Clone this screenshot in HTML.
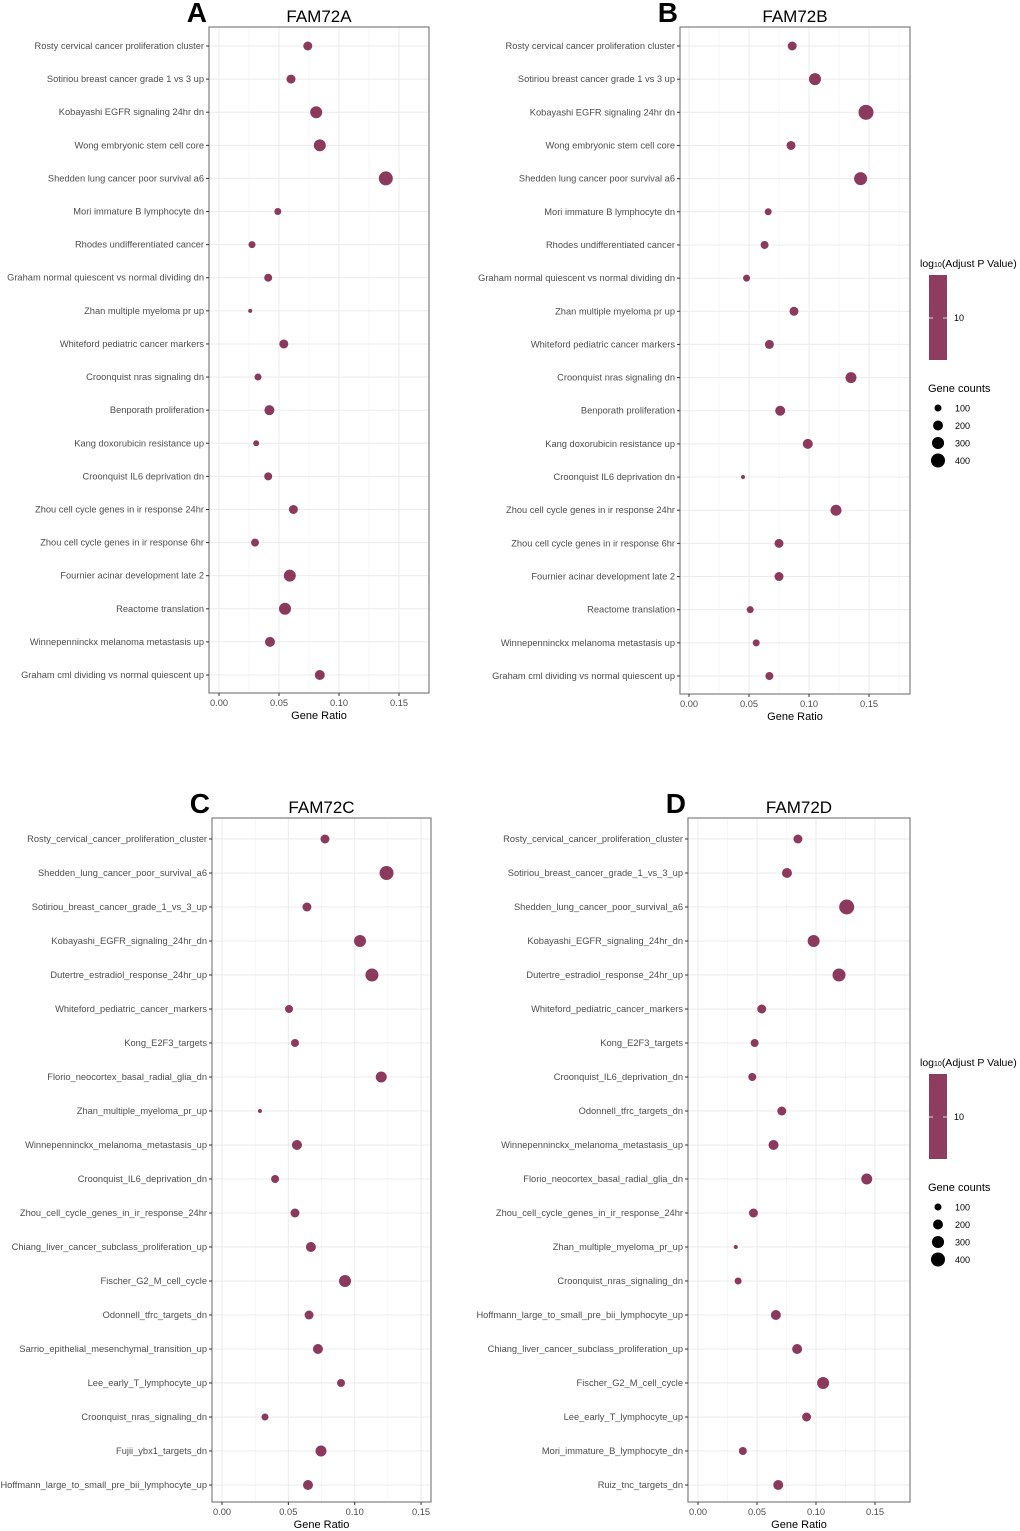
<!DOCTYPE html>
<html><head><meta charset="utf-8">
<style>
html,body{margin:0;padding:0;background:#fff;}
svg{display:block;font-family:"Liberation Sans",Arial,sans-serif;}
</style></head>
<body>
<svg id="fig" width="1020" height="1531" viewBox="0 0 1020 1531"></svg>
<script>
// Panel A data
const catsA = ["Rosty cervical cancer proliferation cluster","Sotiriou breast cancer grade 1 vs 3 up","Kobayashi EGFR signaling 24hr dn","Wong embryonic stem cell core","Shedden lung cancer poor survival a6","Mori immature B lymphocyte dn","Rhodes undifferentiated cancer","Graham normal quiescent vs normal dividing dn","Zhan multiple myeloma pr up","Whiteford pediatric cancer markers","Croonquist nras signaling dn","Benporath proliferation","Kang doxorubicin resistance up","Croonquist IL6 deprivation dn","Zhou cell cycle genes in ir response 24hr","Zhou cell cycle genes in ir response 6hr","Fournier acinar development late 2","Reactome translation","Winnepenninckx melanoma metastasis up","Graham cml dividing vs normal quiescent up"];
const ratioA = [0.074,0.060,0.081,0.084,0.139,0.049,0.0275,0.041,0.026,0.054,0.0325,0.042,0.031,0.041,0.062,0.030,0.059,0.055,0.0425,0.084];
const countA = [165,165,294,294,400,100,100,130,33,165,100,204,73,130,165,130,294,294,204,204];
// Panel B data
const catsB = ["Rosty cervical cancer proliferation cluster","Sotiriou breast cancer grade 1 vs 3 up","Kobayashi EGFR signaling 24hr dn","Wong embryonic stem cell core","Shedden lung cancer poor survival a6","Mori immature B lymphocyte dn","Rhodes undifferentiated cancer","Graham normal quiescent vs normal dividing dn","Zhan multiple myeloma pr up","Whiteford pediatric cancer markers","Croonquist nras signaling dn","Benporath proliferation","Kang doxorubicin resistance up","Croonquist IL6 deprivation dn","Zhou cell cycle genes in ir response 24hr","Zhou cell cycle genes in ir response 6hr","Fournier acinar development late 2","Reactome translation","Winnepenninckx melanoma metastasis up","Graham cml dividing vs normal quiescent up"];
const ratioB = [0.086,0.105,0.1475,0.085,0.143,0.066,0.063,0.048,0.0875,0.067,0.135,0.076,0.099,0.045,0.1225,0.075,0.075,0.051,0.056,0.067];
const countB = [165,294,459,165,345,100,130,100,165,165,247,204,204,33,247,165,165,100,100,130];
// Panel C data
const catsC = ["Rosty_cervical_cancer_proliferation_cluster","Shedden_lung_cancer_poor_survival_a6","Sotiriou_breast_cancer_grade_1_vs_3_up","Kobayashi_EGFR_signaling_24hr_dn","Dutertre_estradiol_response_24hr_up","Whiteford_pediatric_cancer_markers","Kong_E2F3_targets","Florio_neocortex_basal_radial_glia_dn","Zhan_multiple_myeloma_pr_up","Winnepenninckx_melanoma_metastasis_up","Croonquist_IL6_deprivation_dn","Zhou_cell_cycle_genes_in_ir_response_24hr","Chiang_liver_cancer_subclass_proliferation_up","Fischer_G2_M_cell_cycle","Odonnell_tfrc_targets_dn","Sarrio_epithelial_mesenchymal_transition_up","Lee_early_T_lymphocyte_up","Croonquist_nras_signaling_dn","Fujii_ybx1_targets_dn","Hoffmann_large_to_small_pre_bii_lymphocyte_up"];
const ratioC = [0.0776,0.124,0.064,0.104,0.113,0.0505,0.055,0.120,0.0286,0.0565,0.040,0.055,0.067,0.0927,0.0656,0.0723,0.0897,0.0324,0.0746,0.0648];
const countC = [165,400,165,294,345,130,130,247,33,204,130,165,204,294,165,204,130,100,247,204];
// Panel D data
const catsD = ["Rosty_cervical_cancer_proliferation_cluster","Sotiriou_breast_cancer_grade_1_vs_3_up","Shedden_lung_cancer_poor_survival_a6","Kobayashi_EGFR_signaling_24hr_dn","Dutertre_estradiol_response_24hr_up","Whiteford_pediatric_cancer_markers","Kong_E2F3_targets","Croonquist_IL6_deprivation_dn","Odonnell_tfrc_targets_dn","Winnepenninckx_melanoma_metastasis_up","Florio_neocortex_basal_radial_glia_dn","Zhou_cell_cycle_genes_in_ir_response_24hr","Zhan_multiple_myeloma_pr_up","Croonquist_nras_signaling_dn","Hoffmann_large_to_small_pre_bii_lymphocyte_up","Chiang_liver_cancer_subclass_proliferation_up","Fischer_G2_M_cell_cycle","Lee_early_T_lymphocyte_up","Mori_immature_B_lymphocyte_dn","Ruiz_tnc_targets_dn"];
const ratioD = [0.0847,0.0754,0.126,0.098,0.1195,0.054,0.048,0.046,0.071,0.064,0.143,0.047,0.032,0.034,0.066,0.084,0.106,0.092,0.038,0.068];
const countD = [165,204,459,294,345,165,130,130,165,204,247,165,33,100,204,204,294,165,130,204];
const xTicks = [0, 0.05, 0.10, 0.15];
const xTickLabels = ["0.00","0.05","0.10","0.15"];
const legendCounts = [100,200,300,400];

const NS="http://www.w3.org/2000/svg";
const svg=document.getElementById('fig');
const COL="#8b3a5e";
function mk(tag,attrs,parent){const e=document.createElementNS(NS,tag);for(const k in attrs)e.setAttribute(k,attrs[k]);(parent||svg).appendChild(e);return e;}
function rad(c){return 0.35*Math.sqrt(c);}

const panels=[
 {id:'a',letter:'A',title:'FAM72A',cats:catsA,ratio:ratioA,count:countA,L:209,R:429,T:27,B:693,x0:219,ppu:1200,y1:46,yN:675},
 {id:'b',letter:'B',title:'FAM72B',cats:catsB,ratio:ratioB,count:countB,L:680,R:910,T:27,B:694,x0:689,ppu:1200,y1:46,yN:676},
 {id:'c',letter:'C',title:'FAM72C',cats:catsC,ratio:ratioC,count:countC,L:212,R:431,T:818,B:1502,x0:222,ppu:1327,y1:839,yN:1485},
 {id:'d',letter:'D',title:'FAM72D',cats:catsD,ratio:ratioD,count:countD,L:688,R:910,T:818,B:1502,x0:698,ppu:1180,y1:839,yN:1485}
];

panels.forEach(p=>{
 const g=mk('g',{});
 
 
 const xs=v=>p.x0+v*p.ppu;
 const n=p.cats.length;
 const ys=i=>p.y1+i*(p.yN-p.y1)/(n-1);
 mk('rect',{x:p.L,y:p.T,width:p.R-p.L,height:p.B-p.T,fill:'#fff'},g);
 for(let v=0.025;v<0.2;v+=0.05){const x=xs(v);if(x<p.R)mk('line',{x1:x,x2:x,y1:p.T,y2:p.B,stroke:'#f2f2f2','stroke-width':0.6},g);}
 xTicks.forEach(v=>{const x=xs(v);mk('line',{x1:x,x2:x,y1:p.T,y2:p.B,stroke:'#ebebeb','stroke-width':1},g);});
 p.cats.forEach((c,i)=>{const y=ys(i);mk('line',{x1:p.L,x2:p.R,y1:y,y2:y,stroke:'#ebebeb','stroke-width':1},g);});
 mk('rect',{x:p.L,y:p.T,width:p.R-p.L,height:p.B-p.T,fill:'none',stroke:'#7f7f7f','stroke-width':1.2},g);
 p.cats.forEach((c,i)=>{
  const y=ys(i);
  mk('line',{x1:p.L-3,x2:p.L,y1:y,y2:y,stroke:'#333','stroke-width':1},g);
  const t=mk('text',{x:p.L-5,y:y+3,'text-anchor':'end','font-size':'9.3','fill':'#4d4d4d'},g);
  t.textContent=c;
  
  
 });
 xTicks.forEach((v,k)=>{
  const x=xs(v);
  mk('line',{x1:x,x2:x,y1:p.B,y2:p.B+3,stroke:'#333','stroke-width':1},g);
  const t=mk('text',{x:x,y:p.B+13,'text-anchor':'middle','font-size':'9.3','fill':'#4d4d4d'},g);
  t.textContent=xTickLabels[k];
  
  
 });
 const xt=mk('text',{x:(p.L+p.R)/2,y:p.B+26,'text-anchor':'middle','font-size':'11','fill':'#000'},g);
 xt.textContent='Gene Ratio';
 
 
 p.ratio.forEach((v,i)=>{
  const c=mk('circle',{cx:xs(v),cy:ys(i),r:rad(p.count[i]),fill:COL},g);
  
  
 });
 const tt=mk('text',{x:(p.L+p.R)/2,y:p.T-5,'text-anchor':'middle','font-size':'17','fill':'#000'},g);
 tt.textContent=p.title;
 
 
 const lt=mk('text',{x:p.L-2,y:p.T-5,'text-anchor':'end','font-size':'28','font-weight':'bold','fill':'#000'},g);
 lt.textContent=p.letter;
 
 
});

[{y:263},{y:1062}].forEach(l=>{
 const g=mk('g',{});
 
 
 const t=mk('text',{x:920,y:l.y+4,'font-size':'10.5','fill':'#000'},g);
 t.innerHTML='log<tspan font-size="7">10</tspan>(Adjust P Value)';
 mk('rect',{x:929,y:l.y+12,width:18,height:85,fill:'#8e3c60'},g);
 mk('line',{x1:929,x2:933,y1:l.y+55,y2:l.y+55,stroke:'#ddd'},g);
 mk('line',{x1:943,x2:947,y1:l.y+55,y2:l.y+55,stroke:'#ddd'},g);
 const t10=mk('text',{x:954,y:l.y+58,'font-size':'9','fill':'#000'},g);
 t10.textContent='10';
 const gc=mk('text',{x:928,y:l.y+129,'font-size':'11','fill':'#000'},g);
 gc.textContent='Gene counts';
 legendCounts.forEach((c,i)=>{
  const yy=l.y+145+i*17.5;
  const cc=mk('circle',{cx:938,cy:yy,r:rad(c),fill:'#000'},g);
  
  
  const lb=mk('text',{x:955,y:yy+3.5,'font-size':'9','fill':'#000'},g);
  lb.textContent=String(c);
 });
});
</script>
</body></html>
